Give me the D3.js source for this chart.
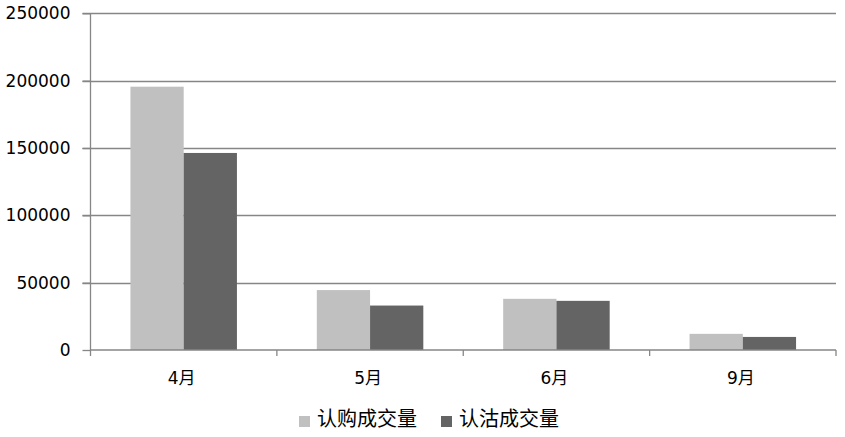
<!DOCTYPE html>
<html><head><meta charset="utf-8">
<script src="https://cdn.jsdelivr.net/npm/d3@7/dist/d3.min.js"></script>
<style>body{margin:0;background:#fff}svg{display:block}</style>
</head><body><svg id="c" width="845" height="437"></svg>
<script>
const categories = ["4月", "5月", "6月", "9月"];
const seriesNames = ["认购成交量", "认沽成交量"];
const callVolume = [195500, 44500, 38000, 12000];
const putVolume = [146300, 33000, 36500, 9700];
const yTicks = [0, 50000, 100000, 150000, 200000, 250000];
const colors = ["#c0c0c0", "#646464"];

const svg = d3.select("#c");
const L = 90.5, R = 836, T = 13.3, B = 350;
const x = d3.scaleBand().domain(categories).range([L, R]).paddingInner(0).paddingOuter(0);
const y = d3.scaleLinear().domain([0, 250000]).range([B, T]);
const bw = x.bandwidth() / (2 + 1.5);
const gap = bw * 0.75;

// gridlines
svg.append("g").selectAll("line").data(yTicks.slice(1)).join("line")
  .attr("x1", L - 8).attr("x2", R).attr("y1", d => Math.round(y(d)) + 0.5).attr("y2", d => Math.round(y(d)) + 0.5)
  .attr("stroke", "#868686").attr("stroke-width", 1.3);

const data = categories.map((c, i) => ({c, v: [callVolume[i], putVolume[i]]}));
const g = svg.append("g");
[callVolume, putVolume].forEach((vals, s) => {
  g.selectAll(".b" + s).data(categories).join("rect")
    .attr("x", (d) => x(d) + gap + s * bw)
    .attr("width", bw)
    .attr("y", (d, i) => y(vals[i]))
    .attr("height", (d, i) => B - y(vals[i]))
    .attr("fill", colors[s]);
});

// y axis
const yAxis = d3.axisLeft(y).tickValues(yTicks).tickSize(8).tickPadding(12).tickFormat(d3.format("d"));
const ya = svg.append("g").attr("transform", `translate(${L},0)`).call(yAxis);
ya.select(".domain").attr("stroke", "#868686").attr("stroke-width", 1.3).attr("d", `M0,${T}V${B}`);
ya.selectAll(".tick line").attr("stroke", "#868686").attr("stroke-width", 1.3);
ya.selectAll("text").attr("font-family", "DejaVu Sans").attr("font-size", 17).attr("fill", "#000");

// x axis
const xa = svg.append("g").attr("transform", `translate(0,${B})`);
xa.append("line").attr("x1", L).attr("x2", R).attr("y1", 0).attr("y2", 0).attr("stroke", "#868686").attr("stroke-width", 1.3);
const bounds = categories.map(c => x(c)).concat([R]);
xa.selectAll(".tk").data(bounds).join("line")
  .attr("x1", d => d).attr("x2", d => d).attr("y1", 0).attr("y2", 6)
  .attr("stroke", "#868686").attr("stroke-width", 1.3);
xa.selectAll(".lbl").data(categories).join("text")
  .attr("x", d => x(d) + x.bandwidth() / 2 - 2).attr("y", 34)
  .attr("text-anchor", "middle").attr("font-family", "DejaVu Sans, Noto Sans CJK SC").attr("font-size", 17)
  .text(d => d);

// legend
const leg = svg.append("g");
const legX = [299, 441];
seriesNames.forEach((n, i) => {
  leg.append("rect").attr("x", legX[i]).attr("y", 416).attr("width", 11).attr("height", 11).attr("fill", colors[i]);
  leg.append("text").attr("x", legX[i] + 18).attr("y", 426).attr("font-family", "Noto Sans CJK SC").attr("font-size", 20).text(n);
});
</script></body></html>
